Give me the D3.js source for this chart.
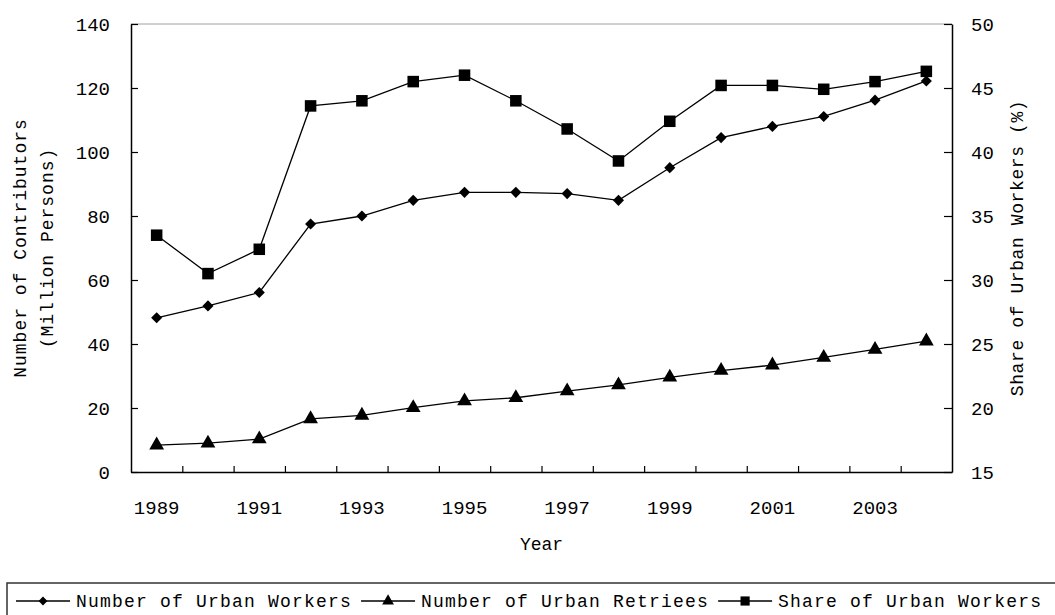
<!DOCTYPE html>
<html>
<head>
<meta charset="utf-8">
<script src="https://cdn.jsdelivr.net/npm/d3@7"></script>
<style>
  body { margin: 0; background: #fff; }
  svg { display: block; }
  text { font-family: "Liberation Mono", "DejaVu Sans Mono", monospace; fill: #000; }
</style>
</head>
<body>
<div id="chart"></div>
<script>
// data
var years = [1989, 1990, 1991, 1992, 1993, 1994, 1995, 1996, 1997, 1998, 1999, 2000, 2001, 2002, 2003, 2004];
var urbanWorkers = [48.2, 51.9, 56.1, 77.5, 80.0, 84.9, 87.4, 87.4, 87.0, 84.9, 95.1, 104.5, 108.0, 111.1, 116.2, 122.2];
var urbanRetirees = [8.4, 9.0, 10.3, 16.6, 17.7, 20.1, 22.2, 23.2, 25.3, 27.2, 29.6, 31.7, 33.4, 35.8, 38.3, 40.9];
var shareWorkers = [33.5, 30.5, 32.4, 43.6, 44.0, 45.5, 46.0, 44.0, 41.8, 39.3, 42.4, 45.2, 45.2, 44.9, 45.5, 46.3];
var leftTicks = [0, 20, 40, 60, 80, 100, 120, 140];
var rightTicks = [15, 20, 25, 30, 35, 40, 45, 50];
var yearLabels = [1989, 1991, 1993, 1995, 1997, 1999, 2001, 2003];
var seriesNames = ["Number of Urban Workers", "Number of Urban Retriees", "Share of Urban Workers"];

var width = 1055,
    height = 615,
    margin = { top: 24, right: 103, bottom: 143, left: 131 },
    innerWidth = width - margin.left - margin.right,
    innerHeight = height - margin.top - margin.bottom;

var svg = d3.select("#chart").append("svg")
    .attr("width", width)
    .attr("height", height);

var g = svg.append("g")
    .attr("transform", "translate(" + margin.left + "," + margin.top + ")");

var xBand = d3.scaleBand().domain(years).range([0, innerWidth]);
var xEdge = d3.scaleLinear().domain([0, years.length]).range([0, innerWidth]);
var yLeft = d3.scaleLinear().domain([0, 140]).range([innerHeight, 0]);
var yRight = d3.scaleLinear().domain([15, 50]).range([innerHeight, 0]);

function X(d, i) { return xBand(years[i]) + xBand.bandwidth() / 2; }

// top frame line (grey)
g.append("line")
    .attr("x1", 0).attr("x2", innerWidth)
    .attr("y1", 0).attr("y2", 0)
    .attr("stroke", "#a0a0a0").attr("stroke-width", 1);

function styleAxis(a) {
    a.select(".domain").attr("stroke", "#000").attr("stroke-width", 1.5);
    a.selectAll("line").attr("stroke", "#000").attr("stroke-width", 1.2);
    a.selectAll("text").style("font-size", "19px");
}

// left axis
g.append("g")
    .attr("class", "y axis")
    .call(d3.axisLeft(yLeft).tickValues(leftTicks).tickSize(-7).tickPadding(21).tickSizeOuter(0))
    .call(styleAxis);

// right axis
g.append("g")
    .attr("class", "y2 axis")
    .attr("transform", "translate(" + innerWidth + ",0)")
    .call(d3.axisRight(yRight).tickValues(rightTicks).tickSize(-8).tickPadding(19).tickSizeOuter(0))
    .call(styleAxis);

// bottom axis: tick marks between categories
g.append("g")
    .attr("class", "x axis")
    .attr("transform", "translate(0," + innerHeight + ")")
    .call(d3.axisBottom(xEdge).tickValues(d3.range(1, years.length)).tickSize(-6).tickFormat("").tickSizeOuter(0))
    .call(styleAxis);

// year labels at category centres
g.append("g")
    .attr("class", "x labels")
    .attr("transform", "translate(0," + innerHeight + ")")
    .call(d3.axisBottom(xBand).tickValues(yearLabels).tickSize(0).tickPadding(29))
    .call(function(a) {
        a.select(".domain").remove();
        a.selectAll("text").style("font-size", "19px");
    });

// axis titles
g.append("text")
    .attr("x", innerWidth / 2)
    .attr("y", innerHeight + 78)
    .attr("text-anchor", "middle")
    .style("font-size", "18px")
    .text("Year");

var leftTitle = svg.append("text")
    .attr("transform", "translate(26," + (margin.top + innerHeight / 2) + ") rotate(-90)")
    .attr("text-anchor", "middle")
    .style("font-size", "18px")
    .style("letter-spacing", "1px");
leftTitle.append("tspan").attr("x", 0).attr("dy", 0).text("Number of Contributors");
leftTitle.append("tspan").attr("x", 0).attr("dy", 27).text("(Million Persons)");

svg.append("text")
    .attr("transform", "translate(1023," + (margin.top + innerHeight / 2) + ") rotate(-90)")
    .attr("text-anchor", "middle")
    .style("font-size", "18px")
    .style("letter-spacing", "0.6px")
    .text("Share of Urban Workers (%)");

// square diamond (same width and height)
var symbolRhomb = {
    draw: function(context, size) {
        var r = Math.sqrt(size / 2);
        context.moveTo(0, -r);
        context.lineTo(r, 0);
        context.lineTo(0, r);
        context.lineTo(-r, 0);
        context.closePath();
    }
};

function markerPath(kind, size) {
    if (kind === "diamond") return d3.symbol().type(symbolRhomb).size(size * 0.65)();
    if (kind === "triangle") return d3.symbol().type(d3.symbolTriangle).size(size)();
    return d3.symbol().type(d3.symbolSquare).size(size * 1.4)();
}

var series = [
    { name: seriesNames[0], values: urbanWorkers, y: yLeft, kind: "diamond" },
    { name: seriesNames[1], values: urbanRetirees, y: yLeft, kind: "triangle" },
    { name: seriesNames[2], values: shareWorkers, y: yRight, kind: "square" }
];

series.forEach(function(s) {
    var line = d3.line()
        .x(X)
        .y(function(d) { return s.y(d); });

    g.append("path")
        .datum(s.values)
        .attr("fill", "none")
        .attr("stroke", "#000")
        .attr("stroke-width", 1.3)
        .attr("d", line);

    g.selectAll(".m-" + s.kind)
        .data(s.values)
        .enter().append("path")
        .attr("class", "m-" + s.kind)
        .attr("transform", function(d, i) { return "translate(" + X(d, i) + "," + s.y(d) + ")"; })
        .attr("d", markerPath(s.kind, 95))
        .attr("fill", "#000");
});

// legend
var legend = svg.append("g").attr("class", "legend");
legend.append("rect")
    .attr("x", 7).attr("y", 583)
    .attr("width", 1060).attr("height", 60)
    .attr("fill", "#fff")
    .attr("stroke", "#333")
    .attr("stroke-width", 1.5);

var lx = 16, ly = 601;
series.forEach(function(s) {
    var item = legend.append("g");
    item.append("line")
        .attr("x1", lx).attr("x2", lx + 54)
        .attr("y1", ly).attr("y2", ly)
        .attr("stroke", "#000").attr("stroke-width", 1.3);
    item.append("path")
        .attr("transform", "translate(" + (lx + 27) + "," + ly + ")")
        .attr("d", markerPath(s.kind, 60))
        .attr("fill", "#000");
    var t = item.append("text")
        .attr("x", lx + 60)
        .attr("y", ly + 6)
        .style("font-size", "18px")
        .style("letter-spacing", "1.2px")
        .text(s.name);
    lx = lx + 60 + t.node().getComputedTextLength() + 9;
});
</script>
</body>
</html>
